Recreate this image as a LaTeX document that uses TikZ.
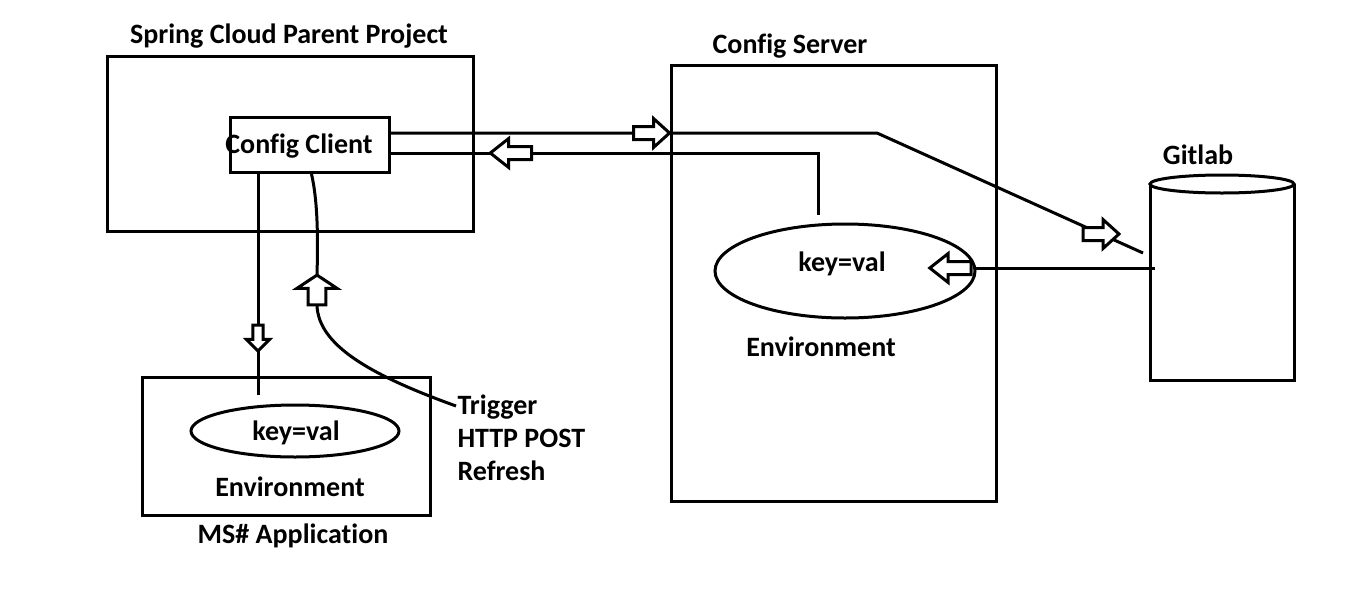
\documentclass[tikz,border=0pt]{standalone}
\usepackage{fontspec}
\setmainfont[Ligatures=NoCommon]{Carlito}
\usetikzlibrary{shapes.geometric}
\begin{document}
\begin{tikzpicture}[x=1pt,y=-1pt, line width=3pt,
  box/.style={draw, rectangle, inner sep=0pt, outer sep=0pt},
  oval/.style={draw, ellipse, inner sep=0pt, outer sep=0pt},
  lbl/.style={font=\fontsize{28}{33}\selectfont\bfseries, inner sep=0pt, anchor=base},
  hollow/.pic={\draw[fill=white, line width=3pt, line join=miter]
     (-18,-6.5) -- (2,-6.5) -- (2,-14.5) -- (18,0) -- (2,14.5) -- (2,6.5) -- (-18,6.5) -- cycle;}
]
\useasboundingbox (0,0) rectangle (1366,592);
\fill[white] (0,0) rectangle (1366,592);

% boxes
\node[box, minimum width=366, minimum height=175] (parent) at (290,143.5) {};
\node[lbl] (parentlbl) at (289,43) {Spring Cloud Parent Project};
\node[box, minimum width=325, minimum height=436] (server) at (833.5,283) {};
\node[lbl] (serverlbl) at (790,53) {Config Server};
\node[box, minimum width=288, minimum height=138] (ms) at (286,446) {};
\node[lbl] (mslbl) at (293,543) {MS\# Application};

% ellipses
\node[oval, minimum width=260, minimum height=94] (csenv) at (845,271) {};
\node[lbl] (cskv) at (842,271) {key=val};
\node[lbl] (csenvlbl) at (821,356) {Environment};
\node[oval, minimum width=208, minimum height=52] (msenv) at (295,431) {};
\node[lbl] (mskv) at (296,440) {key=val};
\node[lbl] (msenvlbl) at (290,496) {Environment};

% gitlab cylinder
\coordinate (gitl) at (1150,184);
\coordinate (gitr) at (1294,184);
\draw (gitl) -- (1150,380) -- (1294,380) -- (gitr);
\draw (1222,184) ellipse [x radius=72, y radius=9];
\node[lbl] (gitlbl) at (1198,164) {Gitlab};

% config client
\node[box, fill=white, minimum width=159, minimum height=55] (client) at (309.5,144.5) {};
\node[lbl] (clientlbl) at (299,153) {Config Client};

% trigger text
\node[font=\fontsize{28}{33}\selectfont\bfseries, align=left, inner sep=0pt, anchor=base west] (trigger) at (456,480) {Trigger\\HTTP POST\\Refresh};

% connectors
\coordinate (bend1) at (877,133);
\coordinate (gitin) at (1143,253);
\draw (client.east |- bend1) -- (bend1) -- (gitin);
\pic at (651.5,133) {hollow};
\pic at (1101,234) {hollow};

\coordinate (bend2) at (818,153);
\coordinate (envtop) at (818,215);
\draw (client.east |- bend2) -- (bend2) -- (envtop);
\pic[rotate=180, xscale=1.15] at (511,153) {hollow};

\coordinate (gitout) at (1155,268);
\draw (gitout) -- (csenv.east |- gitout);
\pic[rotate=180, xscale=1.15] at (950.5,268) {hollow};

\coordinate (msin) at (258,395);
\draw (client.south -| msin) -- (msin);
\pic[rotate=-90, xscale=0.72, yscale=0.8] at (258,338) {hollow};

\coordinate (clientout) at (311,172);
\coordinate (uptip) at (317,275);
\coordinate (upbase) at (317,305);
\coordinate (trigpt) at (456,406);
\draw (clientout) .. controls (318,200) and (318,240) .. (uptip);
\draw (upbase) .. controls (318,345) and (370,375) .. (trigpt);
\pic[rotate=90, xscale=0.83, yscale=1.38] at (317,290) {hollow};
\end{tikzpicture}
\end{document}
